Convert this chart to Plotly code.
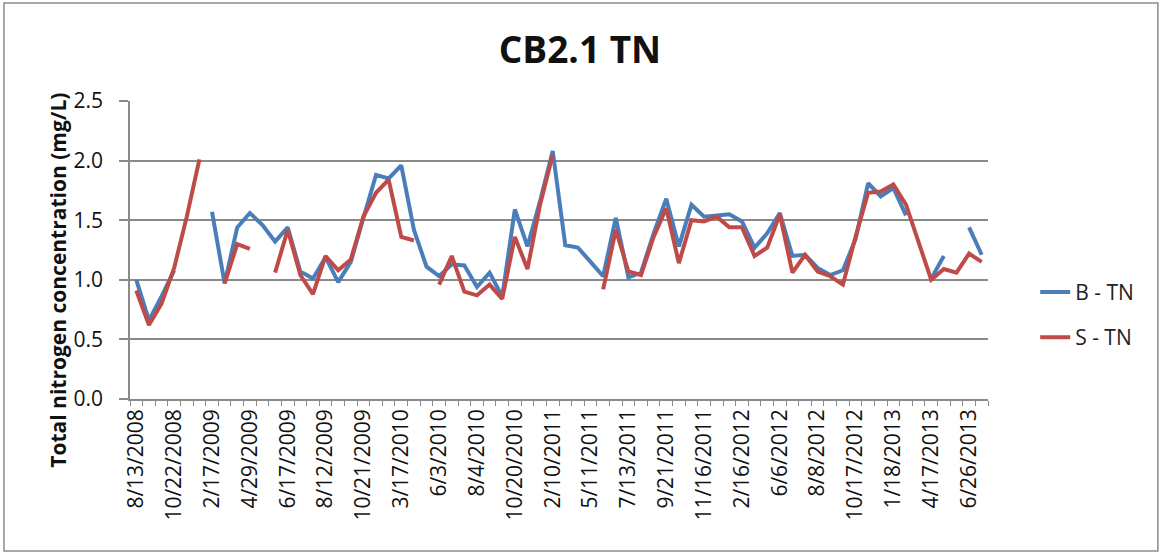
import plotly.graph_objects as go

# Sampling dates shown on the category axis (every third sample is labelled)
tick_labels = [
    "8/13/2008", "10/22/2008", "2/17/2009", "4/29/2009", "6/17/2009",
    "8/12/2009", "10/21/2009", "3/17/2010", "6/3/2010", "8/4/2010",
    "10/20/2010", "2/10/2011", "5/11/2011", "7/13/2011", "9/21/2011",
    "11/16/2011", "2/16/2012", "6/6/2012", "8/8/2012", "10/17/2012",
    "1/18/2013", "4/17/2013", "6/26/2013",
]

# Total nitrogen (mg/L), bottom sample; None = no sample
b_tn = [
    1.00, 0.66, 0.86, 1.08, None, None, 1.57, 0.97, 1.44, 1.56,
    1.46, 1.32, 1.44, 1.07, 1.01, 1.19, 0.98, 1.15, 1.52, 1.88,
    1.85, 1.96, 1.42, 1.11, 1.03, 1.13, 1.12, 0.94, 1.06, 0.86,
    1.59, 1.28, 1.66, 2.08, 1.29, 1.27, 1.15, 1.03, 1.52, 1.02,
    1.06, 1.39, 1.68, 1.28, 1.63, 1.53, 1.54, 1.55, 1.49, 1.27,
    1.39, 1.56, 1.20, 1.21, 1.10, 1.04, 1.08, 1.34, 1.81, 1.70,
    1.77, 1.54, None, 1.01, 1.20, None, 1.44, 1.21,
]

# Total nitrogen (mg/L), surface sample; None = no sample
s_tn = [
    0.91, 0.62, 0.80, 1.10, 1.53, 2.01, None, 0.97, 1.30, 1.26,
    None, 1.06, 1.42, 1.04, 0.88, 1.20, 1.08, 1.17, 1.53, 1.73,
    1.84, 1.36, 1.33, None, 0.96, 1.20, 0.90, 0.87, 0.96, 0.84,
    1.36, 1.09, 1.63, 2.05, None, None, None, 0.92, 1.42, 1.07,
    1.04, 1.36, 1.60, 1.14, 1.50, 1.49, 1.53, 1.44, 1.44, 1.20,
    1.27, 1.55, 1.06, 1.21, 1.07, 1.03, 0.96, 1.36, 1.73, 1.74,
    1.80, 1.63, 1.32, 1.00, 1.09, 1.06, 1.22, 1.15,
]

n = len(b_tn)
x = list(range(n))
label_step = 3

FONT = "Open Sans"
GRID = "#8a8a8a"

fig = go.Figure()
fig.add_trace(go.Scatter(
    x=x, y=b_tn, name="B - TN", mode="lines",
    line=dict(color="#4A7EBB", width=4),
    connectgaps=False, legendgroup="b",
))
fig.add_trace(go.Scatter(
    x=x, y=s_tn, name="S - TN", mode="lines",
    line=dict(color="#BE4B48", width=4),
    connectgaps=False, legendgroup="s",
))

fig.update_layout(
    width=1163, height=556,
    margin=dict(l=130, r=175, t=101, b=157),
    paper_bgcolor="white", plot_bgcolor="white",
    font=dict(family=FONT, color="#111111"),
    showlegend=True,
    legend=dict(
        x=1.055, y=0.427, xanchor="left", yanchor="top",
        font=dict(family=FONT, size=21, color="#222222"),
        tracegroupgap=15, bgcolor="rgba(0,0,0,0)",
    ),
    title=dict(
        text="<b>CB2.1 TN</b>",
        x=0.4987, xref="container", xanchor="center",
        y=0.91, yref="container", yanchor="middle",
        font=dict(family=FONT, size=37, color="#111111"),
    ),
)

fig.update_xaxes(
    range=[-0.5, n - 0.5],
    tickmode="array",
    tickvals=x[::label_step],
    ticktext=tick_labels,
    tickangle=-90,
    tickfont=dict(family=FONT, size=21, color="#111111"),
    ticks="",
    showgrid=False, zeroline=False,
    showline=True, linecolor=GRID, linewidth=1.5,
    minor=dict(tickmode="linear", tick0=-0.5, dtick=1, ticks="outside",
               ticklen=5, tickcolor=GRID, tickwidth=1, showgrid=False),
)

fig.update_yaxes(
    range=[0, 2.5], dtick=0.5, tickformat=".1f",
    tickfont=dict(family=FONT, size=21, color="#111111"),
    ticks="outside", ticklen=9, tickcolor=GRID, tickwidth=1.5,
    ticklabelstandoff=12,
    showgrid=True, gridcolor=GRID, gridwidth=1.5,
    zeroline=False,
    showline=True, linecolor=GRID, linewidth=1.5,
)

# Axis title
fig.add_annotation(
    text="<b>Total nitrogen concentration (mg/L)</b>",
    xref="paper", yref="paper", x=-0.084, y=0.40,
    xanchor="center", yanchor="middle",
    textangle=-90, showarrow=False,
    font=dict(family=FONT, size=21, color="#111111"),
)

# Chart-area border
fig.add_shape(
    type="rect", xref="paper", yref="paper",
    x0=-0.1469, x1=1.198, y0=-0.510, y1=1.329,
    line=dict(color="#8c8c8c", width=1.5), fillcolor="rgba(0,0,0,0)",
    layer="below",
)

fig.write_html("out.html")
